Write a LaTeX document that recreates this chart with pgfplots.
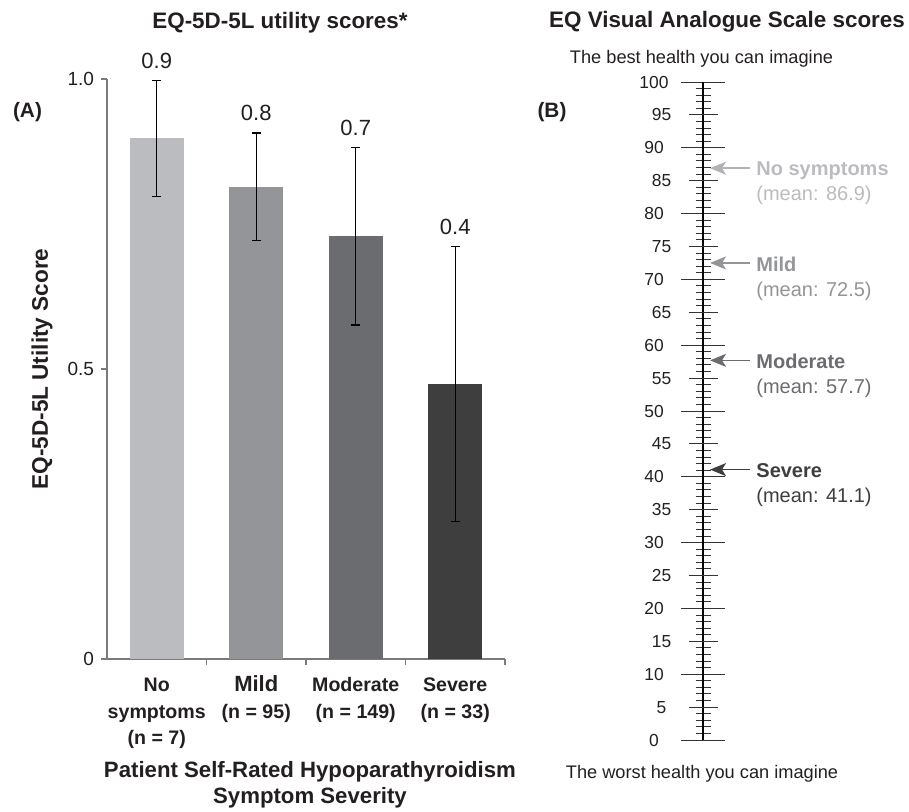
\documentclass[border=0pt]{standalone}
\usepackage{fontspec}
\setmainfont{Liberation Sans}
\usepackage{pgfplots}
\pgfplotsset{compat=1.18}
\usetikzlibrary{arrows.meta}
\definecolor{barA}{HTML}{BBBCC0}
\definecolor{barB}{HTML}{949599}
\definecolor{barC}{HTML}{6B6C70}
\definecolor{barD}{HTML}{3E3E3E}
\definecolor{axisgray}{HTML}{7A7A7A}
\definecolor{txt}{HTML}{231F20}
\pgfplotsset{
  errstyle/.style={error bars/.cd, y dir=both, y explicit,
    error bar style={draw=black, line width=0.6pt},
    error mark=-,
    error mark options={draw=black, line width=0.6pt, mark size=2.3pt, rotate=90}},
}
\begin{document}
\begin{tikzpicture}
\path[use as bounding box] (0,0) rectangle (454.5pt,-405.5pt);

% titles and panel letters
\node[anchor=base, font=\bfseries\fontsize{11.2}{13}\selectfont, text=txt] at (140pt,-14pt) {EQ-5D-5L utility scores*};
\node[anchor=base, font=\bfseries\fontsize{11.2}{13}\selectfont, text=txt] at (363.5pt,-13.5pt) {EQ Visual Analogue Scale scores};
\node[anchor=center, font=\bfseries\fontsize{10.4}{12}\selectfont, text=txt] at (13.75pt,-56pt) {(A)};
\node[anchor=center, font=\bfseries\fontsize{10.4}{12}\selectfont, text=txt] at (276pt,-56pt) {(B)};
\node[anchor=base, font=\fontsize{9.1}{11}\selectfont, text=txt] at (350.75pt,-31.7pt) {The best health you can imagine};
\node[anchor=base, font=\fontsize{9.1}{11}\selectfont, text=txt] at (351pt,-389pt) {The worst health you can imagine};

% ---------------- Panel A ----------------
\begin{axis}[
  at={(53.5pt,-329.5pt)}, anchor=south west,
  scale only axis, width=199pt, height=290pt,
  xmin=-0.5, xmax=3.5, ymin=0, ymax=1,
  axis x line=bottom, axis y line=left,
  axis line style={-, draw=axisgray, line width=0.7pt},
  tick align=outside, major tick length=3pt,
  tick style={draw=axisgray, line width=0.6pt},
  ytick={0,0.5,1}, yticklabels={0,0.5,1.0},
  yticklabel style={font=\fontsize{9.5}{11}\selectfont, text=txt},
  xtick={0,1,2,3},
  xticklabels={{\rule{0pt}{9pt}No\\symptoms\\(n = 7)},
               {\rule{0pt}{9pt}{\fontsize{11}{13}\selectfont Mild}\\(n = 95)},
               {\rule{0pt}{9pt}Moderate\\(n = 149)},
               {\rule{0pt}{9pt}Severe\\(n = 33)}},
  xticklabel style={font=\bfseries\fontsize{9.8}{13.3}\selectfont, align=center, anchor=north, inner sep=0pt, yshift=-4pt, text=txt},
  xtick style={draw=none},
  extra x ticks={0.5,1.5,2.5,3.5},
  extra x tick labels={},
  extra x tick style={xtick style={draw=axisgray}, tick style={draw=axisgray}},
  xlabel={Patient Self-Rated Hypoparathyroidism\\Symptom Severity},
  xlabel style={font=\bfseries\fontsize{11.1}{13}\selectfont, align=center, at={(axis description cs:0.51,0)}, anchor=north, inner sep=0pt, yshift=-51pt, text=txt},
  ylabel={EQ-5D-5L Utility Score},
  ylabel style={font=\bfseries\fontsize{11.3}{13}\selectfont, at={(axis description cs:-0.163,0.5)}, anchor=center, text=txt},
  /pgf/number format/assume math mode=true,
  clip=false,
]
\addplot[ybar, bar width=27pt, bar shift=0pt, fill=barA, draw=none, errstyle]
  coordinates {(0,0.898) +- (0,0.100)};
\addplot[ybar, bar width=27pt, bar shift=0pt, fill=barB, draw=none, errstyle]
  coordinates {(1,0.814) +- (0,0.093)};
\addplot[ybar, bar width=27pt, bar shift=0pt, fill=barC, draw=none, errstyle]
  coordinates {(2,0.729) +- (0,0.153)};
\addplot[ybar, bar width=27pt, bar shift=0pt, fill=barD, draw=none, errstyle]
  coordinates {(3,0.474) +- (0,0.237)};
% value labels above error bars
\addplot[draw=none, no marks, nodes near coords, point meta=explicit symbolic,
  every node near coord/.append style={anchor=base, yshift=6pt, font=\fontsize{11}{13}\selectfont, text=txt}]
  coordinates {(0,0.998) [0.9] (1,0.907) [0.8] (2,0.882) [0.7] (3,0.711) [0.4]};
\end{axis}

% ---------------- Panel B ----------------
\begin{axis}[
  at={(351.5pt,-370pt)}, anchor=south west,
  scale only axis, width=20pt, height=329pt,
  xmin=0, xmax=40, ymin=0, ymax=100,
  axis x line=none, axis y line=left,
  axis line style={-, draw=black, line width=0.6pt},
  tick align=center,
  ytick={0,10,...,100}, major tick length=22pt,
  extra y ticks={5,15,...,95}, extra y tick style={major tick length=14.5pt},
  minor y tick num=9, minor tick length=7.5pt,
  tick style={draw=black!80, line width=0.5pt},
  yticklabel style={font=\fontsize{8.7}{10}\selectfont, anchor=center, xshift=-13.5pt, text=txt},
  /pgf/number format/assume math mode=true,
  clip=false,
]
\addplot[barA!95!black, line width=0.8pt, no marks, -{Stealth[length=8pt,width=6.5pt,inset=2pt]}, quiver={u={-40}, v={0}}] coordinates {(47,86.9)};
\addplot[barB, line width=0.8pt, no marks, -{Stealth[length=8pt,width=6.5pt,inset=2pt]}, quiver={u={-40}, v={0}}] coordinates {(47,72.5)};
\addplot[barC, line width=0.8pt, no marks, -{Stealth[length=8pt,width=6.5pt,inset=2pt]}, quiver={u={-40}, v={0}}] coordinates {(47,57.7)};
\addplot[barD, line width=0.8pt, no marks, -{Stealth[length=8pt,width=6.5pt,inset=2pt]}, quiver={u={-40}, v={0}}] coordinates {(47,41.1)};
\addplot[draw=none, no marks, nodes near coords, point meta=explicit symbolic,
  every node near coord/.append style={anchor=north west, inner sep=0pt, xshift=3pt, yshift=3.4pt, align=left, text=barA, font=\fontsize{10}{12.5}\selectfont}]
  coordinates {(47,86.9) [{\textbf{No symptoms}\\(mean: 86.9)}]};
\addplot[draw=none, no marks, nodes near coords, point meta=explicit symbolic,
  every node near coord/.append style={anchor=north west, inner sep=0pt, xshift=3pt, yshift=3.4pt, align=left, text=barB, font=\fontsize{10}{12.5}\selectfont}]
  coordinates {(47,72.5) [{\textbf{Mild}\\(mean: 72.5)}]};
\addplot[draw=none, no marks, nodes near coords, point meta=explicit symbolic,
  every node near coord/.append style={anchor=north west, inner sep=0pt, xshift=3pt, yshift=3.4pt, align=left, text=barC, font=\fontsize{10}{12.5}\selectfont}]
  coordinates {(47,57.7) [{\textbf{Moderate}\\(mean: 57.7)}]};
\addplot[draw=none, no marks, nodes near coords, point meta=explicit symbolic,
  every node near coord/.append style={anchor=north west, inner sep=0pt, xshift=3pt, yshift=3.4pt, align=left, text=barD, font=\fontsize{10}{12.5}\selectfont}]
  coordinates {(47,41.1) [{\textbf{Severe}\\(mean: 41.1)}]};
\end{axis}
\end{tikzpicture}
\end{document}
